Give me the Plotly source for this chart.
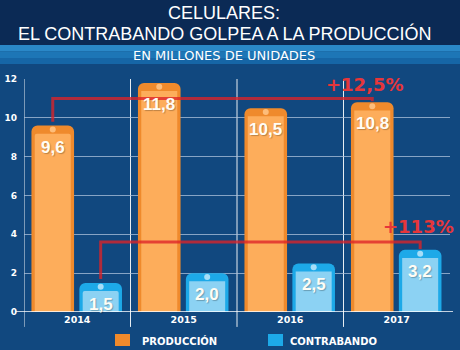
import plotly.graph_objects as go

# ---- data ----
years = ["2014", "2015", "2016", "2017"]
produccion = [9.6, 11.8, 10.5, 10.8]
contrabando = [1.5, 2.0, 2.5, 3.2]
produccion_labels = ["9,6", "11,8", "10,5", "10,8"]
contrabando_labels = ["1,5", "2,0", "2,5", "3,2"]
y_ticks = [0, 2, 4, 6, 8, 10, 12]
series_names = ["PRODUCCIÓN", "CONTRABANDO"]
growth_prod_label = "+12,5%"
growth_contra_label = "+113%"
bracket_prod_level = 11.0
bracket_contra_level = 3.6

# ---- style ----
BG = "#11487f"
HEADER = "#0b2a55"
OR_OUT, OR_IN, OR_DOT = "#ef8a2c", "#fdad5b", "#fdbd7a"
BL_OUT, BL_IN, BL_DOT = "#1da9e8", "#8cd2f3", "#a6def8"
RED_LINE = "rgba(222,34,40,0.78)"
RED_TXT = "#e6363a"

xi = list(range(len(years)))
W = 0.40
OFF_P, OFF_C = -0.43, 0.02
INSET = 0.031
cp = [x + OFF_P + W / 2 for x in xi]
cc = [x + OFF_C + W / 2 for x in xi]

fig = go.Figure()

# outer phone bodies
fig.add_bar(x=xi, y=produccion, offset=OFF_P, width=W, name=series_names[0],
            marker=dict(color=OR_OUT, cornerradius=6, line_width=0), hoverinfo="skip")
fig.add_bar(x=xi, y=contrabando, offset=OFF_C, width=W, name=series_names[1],
            marker=dict(color=BL_OUT, cornerradius=6, line_width=0), hoverinfo="skip")
# inner screens
fig.add_bar(x=xi, y=[v - 0.42 for v in produccion], offset=OFF_P + INSET, width=W - 2 * INSET,
            marker=dict(color=OR_IN, cornerradius=2, line_width=0), hoverinfo="skip")
fig.add_bar(x=xi, y=[v - 0.42 for v in contrabando], offset=OFF_C + INSET, width=W - 2 * INSET,
            marker=dict(color=BL_IN, cornerradius=2, line_width=0), hoverinfo="skip")
# camera dots
fig.add_scatter(x=cp, y=[v - 0.2 for v in produccion], mode="markers",
                marker=dict(size=6, color=OR_DOT), hoverinfo="skip")
fig.add_scatter(x=cc, y=[v - 0.2 for v in contrabando], mode="markers",
                marker=dict(size=6, color=BL_DOT), hoverinfo="skip")
# brackets
fig.add_scatter(x=[cp[0], cp[0], cp[-1], cp[-1]],
                y=[produccion[0] + 0.2, bracket_prod_level, bracket_prod_level, produccion[-1] + 0.05],
                mode="lines", line=dict(color=RED_LINE, width=3), hoverinfo="skip")
fig.add_scatter(x=[cc[0], cc[0], cc[-1], cc[-1]],
                y=[contrabando[0] + 0.2, bracket_contra_level, bracket_contra_level, contrabando[-1] + 0.05],
                mode="lines", line=dict(color=RED_LINE, width=3), hoverinfo="skip")

VAL_FONT = dict(family="Liberation Sans", size=17, color="#fffdf5", weight="bold",
                shadow="1px 1px 1px rgba(0,0,0,0.25)")
annotations = []
for x, v, t in zip(cp, produccion, produccion_labels):
    annotations.append(dict(x=x, y=v, text=t, showarrow=False, yanchor="top", yshift=-10, font=VAL_FONT))
for x, v, t in zip(cc, contrabando, contrabando_labels):
    annotations.append(dict(x=x, y=v, text=t, showarrow=False, yanchor="top", yshift=-10, font=VAL_FONT))
annotations.append(dict(x=2.70, y=bracket_prod_level + 0.7, text=growth_prod_label, showarrow=False,
                        yanchor="middle",
                        font=dict(family="DejaVu Sans", size=18, color=RED_TXT, weight="bold")))
annotations.append(dict(x=3.20, y=bracket_contra_level + 0.78, text=growth_contra_label, showarrow=False,
                        yanchor="middle",
                        font=dict(family="DejaVu Sans", size=18, color=RED_TXT, weight="bold")))
# titles
annotations.append(dict(xref="paper", yref="paper", x=0.47, y=1.283, text="CELULARES:", showarrow=False,
                        yanchor="middle", font=dict(family="Liberation Sans", size=18, color="white")))
annotations.append(dict(xref="paper", yref="paper", x=0.47, y=1.197,
                        text="EL CONTRABANDO GOLPEA A LA PRODUCCIÓN", showarrow=False, yanchor="middle",
                        font=dict(family="Liberation Sans", size=18, color="white")))
annotations.append(dict(xref="paper", yref="paper", x=0.47, y=1.100, text="EN MILLONES DE UNIDADES",
                        showarrow=False, yanchor="middle",
                        font=dict(family="DejaVu Sans", size=13, color="white")))
# legend (drawn manually)
LEG_FONT = dict(family="DejaVu Sans", size=10, color="white", weight="bold")
annotations.append(dict(xref="paper", yref="paper", x=0.2723, y=-0.1245, text=series_names[0],
                        showarrow=False, xanchor="left", yanchor="middle", font=LEG_FONT))
annotations.append(dict(xref="paper", yref="paper", x=0.6197, y=-0.1245, text=series_names[1],
                        showarrow=False, xanchor="left", yanchor="middle", font=LEG_FONT))

shapes = [
    dict(type="rect", xref="paper", yref="paper", x0=-0.1, x1=1.1, y0=1.146, y1=1.4,
         fillcolor=HEADER, line_width=0),
    dict(type="rect", xref="paper", yref="paper", x0=-0.1, x1=1.1, y0=1.118, y1=1.146,
         fillcolor="#2a88c8", line_width=0),
    dict(type="rect", xref="paper", yref="paper", x0=-0.1, x1=1.1, y0=1.090, y1=1.118,
         fillcolor="#1d76b6", line_width=0),
    dict(type="rect", xref="paper", yref="paper", x0=-0.1, x1=1.1, y0=1.064, y1=1.090,
         fillcolor="#1666a6", line_width=0),
    dict(type="line", xref="paper", yref="y", x0=-0.019, x1=1.007, y0=0, y1=0,
         line=dict(color="white", width=1.5)),
    dict(type="rect", xref="paper", yref="paper", x0=0.2136, x1=0.2488, y0=-0.1459, y1=-0.0944,
         fillcolor=OR_OUT, line_width=0),
    dict(type="rect", xref="paper", yref="paper", x0=0.5728, x1=0.6080, y0=-0.1459, y1=-0.0944,
         fillcolor=BL_OUT, line_width=0),
]
for b in [-0.5, 0.5, 1.5, 2.5]:
    shapes.append(dict(type="line", xref="x", yref="paper", x0=b, x1=b, y0=-0.064, y1=1.0,
                       line=dict(color="rgba(255,255,255,0.9)", width=1), layer="below"))

fig.update_layout(
    width=460, height=350,
    margin=dict(l=24, r=10, t=79, b=38, autoexpand=False),
    paper_bgcolor=BG, plot_bgcolor=BG,
    barmode="overlay",
    showlegend=False,
    xaxis=dict(range=[-0.5, 3.5], tickvals=xi, ticktext=years, showgrid=False, zeroline=False,
               showline=False, ticks="", fixedrange=True,
               tickfont=dict(family="DejaVu Sans", size=9.5, color="white", weight="bold")),
    yaxis=dict(range=[0, 12], tickvals=y_ticks, showgrid=True, gridcolor="rgba(175,195,220,0.75)",
               gridwidth=1, zeroline=False, showline=False, ticks="", ticklabelstandoff=6,
               fixedrange=True,
               tickfont=dict(family="DejaVu Sans", size=9, color="white", weight="bold")),
    annotations=annotations,
    shapes=shapes,
)

fig.write_html("out.html")
